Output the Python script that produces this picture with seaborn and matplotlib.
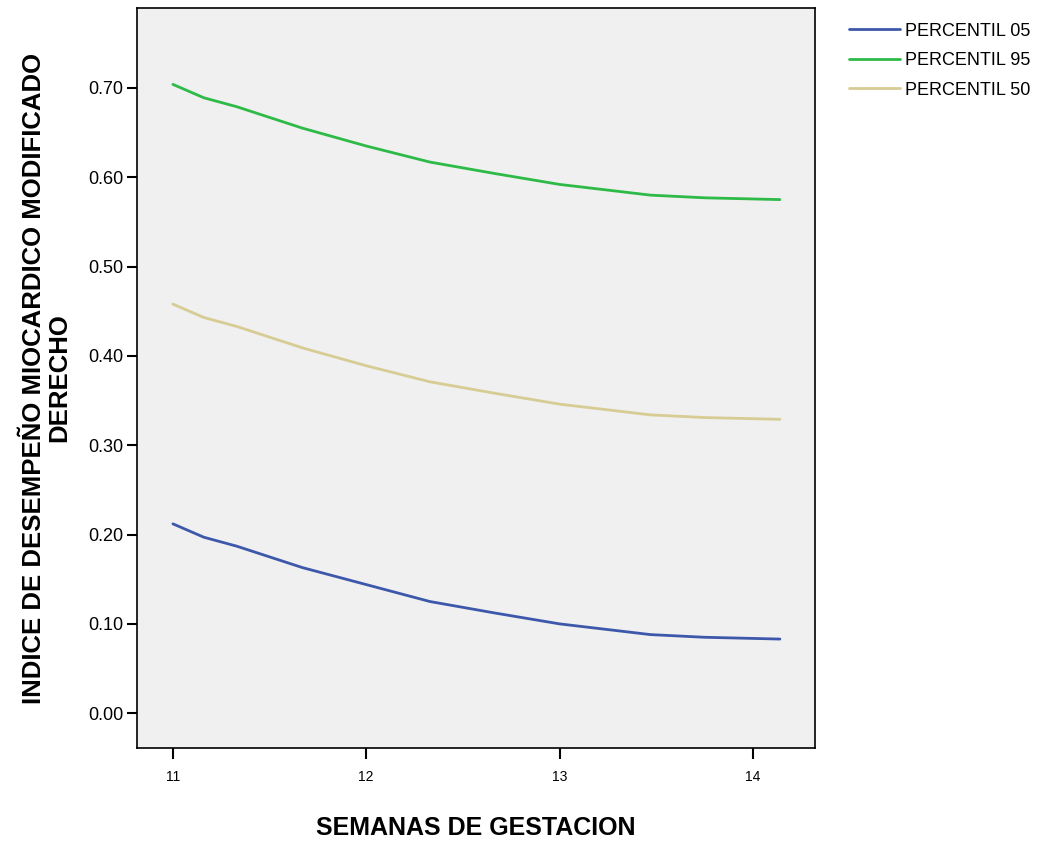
import numpy as np
import pandas as pd
import matplotlib
matplotlib.use("Agg")
import matplotlib.pyplot as plt
import seaborn as sns

# semanas de gestacion
semanas = [11.0, 11.16, 11.33, 11.67, 12.0, 12.33, 12.67, 13.0, 13.47, 13.75, 14.14]
p05 = [0.212, 0.197, 0.187, 0.163, 0.144, 0.125, 0.112, 0.100, 0.088, 0.085, 0.083]
p95 = [0.704, 0.689, 0.679, 0.655, 0.635, 0.617, 0.604, 0.592, 0.580, 0.577, 0.575]
p50 = [0.458, 0.443, 0.433, 0.409, 0.389, 0.371, 0.358, 0.346, 0.334, 0.331, 0.329]

series = ["PERCENTIL 05", "PERCENTIL 95", "PERCENTIL 50"]
colores = ["#3d58ab", "#2dba47", "#d6cc94"]
yticks = [0.0, 0.1, 0.2, 0.3, 0.4, 0.5, 0.6, 0.7]
xticks = [11, 12, 13, 14]

df = pd.DataFrame({
    "semana": semanas * 3,
    "valor": p05 + p95 + p50,
    "serie": [series[0]] * len(semanas) + [series[1]] * len(semanas) + [series[2]] * len(semanas),
})

sns.set_style("ticks")
plt.rcParams["font.family"] = ["Liberation Sans", "DejaVu Sans"]
plt.rcParams["text.color"] = "black"
plt.rcParams["axes.labelcolor"] = "black"
plt.rcParams["xtick.color"] = "black"
plt.rcParams["ytick.color"] = "black"

fig = plt.figure(figsize=(10.43, 8.42), dpi=100)
ax = fig.add_axes([0.1313, 0.1116, 0.65, 0.879])
ax.set_facecolor("#f0f0f0")

sns.lineplot(data=df, x="semana", y="valor", hue="serie", hue_order=series,
             palette=colores, linewidth=2, ax=ax, sort=True, estimator=None)

ax.set_xlim(10.814, 14.321)
ax.set_ylim(-0.039, 0.7896)
ax.set_xticks(xticks)
ax.set_xticklabels([str(t) for t in xticks], fontsize=10)
ax.set_yticks(yticks)
ax.set_yticklabels(["%.2f" % t for t in yticks], fontsize=13)
ax.tick_params(axis="y", length=7, width=1.5, pad=3)
ax.tick_params(axis="x", length=8, width=1.5, pad=8)
for s in ax.spines.values():
    s.set_color("black")
    s.set_linewidth(1.2)

ax.set_xlabel("SEMANAS DE GESTACION", fontsize=18, fontweight="bold", labelpad=23)
ax.set_ylabel("INDICE DE DESEMPEÑO MIOCARDICO MODIFICADO\nDERECHO",
              fontsize=18.5, fontweight="bold", labelpad=12, linespacing=1.05)

leg = ax.legend(loc="upper left", bbox_to_anchor=(1.04, 0.99), frameon=False,
                fontsize=13, handlelength=2.8, handletextpad=0.3, labelspacing=0.7,
                borderaxespad=0)
for line in leg.get_lines():
    line.set_linewidth(2)

fig.savefig("out.png", dpi=100)
